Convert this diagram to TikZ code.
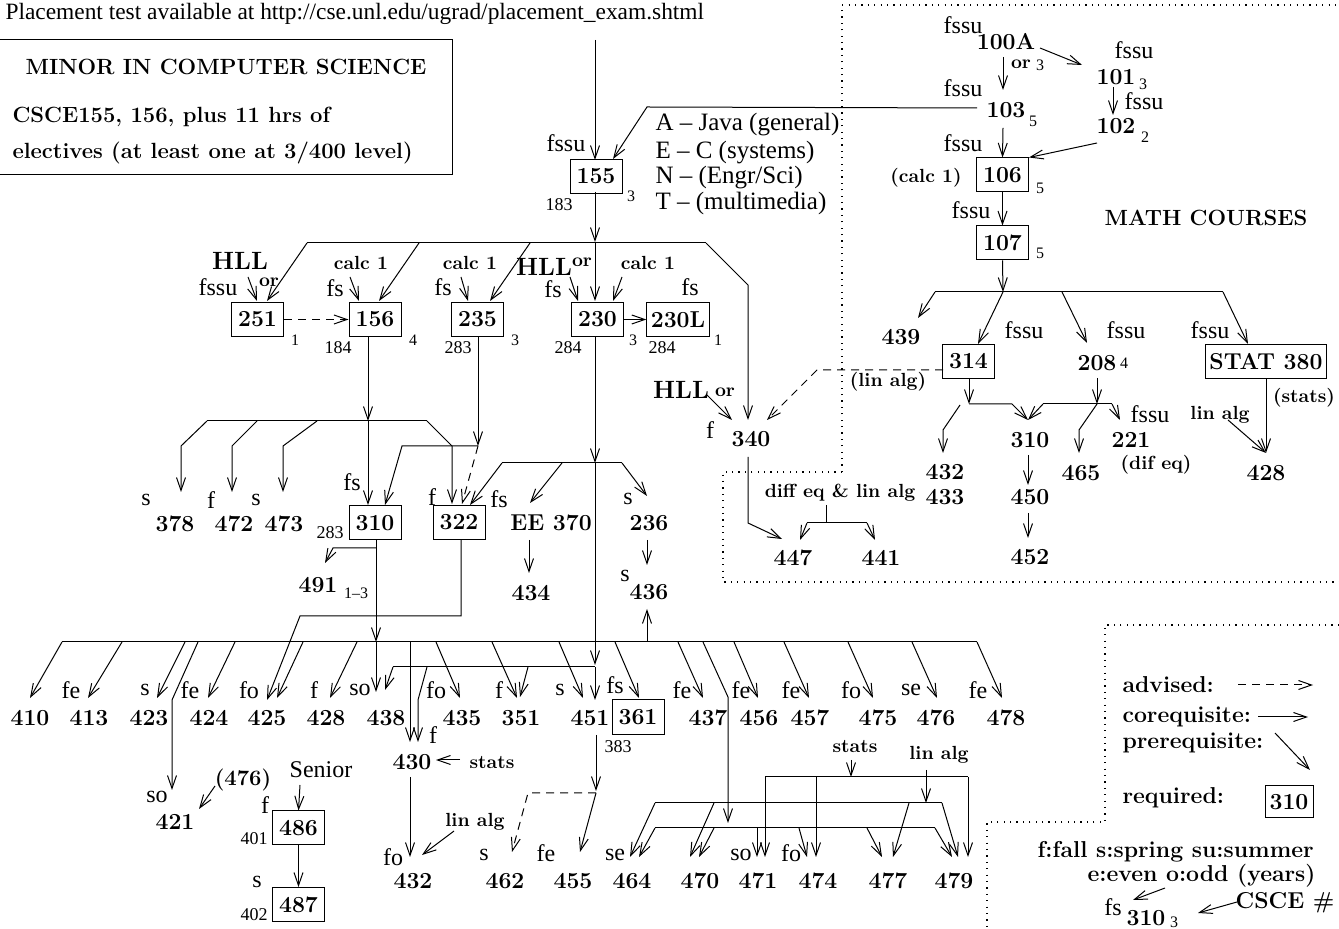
\documentclass[tikz,border=0pt]{standalone}
\usepackage{fontspec}
\newfontfamily\tms{Liberation Serif}
\usetikzlibrary{arrows.meta}
\tikzset{
  pre/.style={-{Straight Barb[length=6.5pt,width=4.5pt]}, line width=0.5pt},
  adv/.style={pre, dash pattern=on 4pt off 3pt},
  course/.style={font=\fontsize{11.5}{12}\selectfont\bfseries, inner sep=0pt},
  req/.style={course, draw, line width=0.5pt, minimum width=26pt, minimum height=17pt, inner xsep=2pt},
  sem/.style={font=\tms\fontsize{12}{13}\selectfont, inner sep=0pt},
  lang/.style={font=\tms\fontsize{12.5}{13}\selectfont, inner sep=0pt, anchor=west},
  num/.style={font=\tms\fontsize{9}{10}\selectfont, inner sep=0pt},
  hrs/.style={font=\tms\fontsize{8}{9}\selectfont, inner sep=0pt},
  cond/.style={font=\fontsize{9.5}{11}\selectfont\bfseries, inner sep=0pt},
  hll/.style={font=\fontsize{12.5}{13}\selectfont\bfseries, inner sep=0pt},
  title/.style={font=\fontsize{11}{13}\selectfont\bfseries, inner sep=0pt},
  leg/.style={font=\fontsize{11.5}{13}\selectfont\bfseries, inner sep=0pt, anchor=west},
  region/.style={line width=0.6pt, dash pattern=on 0.6pt off 2.6pt},
}
\begin{document}
\begin{tikzpicture}[x=0.5pt, y=-0.5pt, line width=0.5pt]
  \useasboundingbox (0,0) rectangle (1339,929);
  \node[sem, font=\tms\fontsize{11.7}{13}\selectfont, anchor=west] (url) at (5,14) {Placement test available at http://cse.unl.edu/ugrad/placement\_exam.shtml};
  \draw (-5,40) rectangle (452,175);
  \node[title] (minor) at (226,67) {MINOR IN COMPUTER SCIENCE};
  \node[title, anchor=west] (minora) at (12,117) {CSCE155, 156, plus 11 hrs of};
  \node[title, anchor=west] (minorb) at (12,153) {electives (at least one at 3/400 level)};

  \node[req] (c155) at (596,176.5) {155};
  \node[sem] (s155) at (566,143) {fssu};
  \node[num] (n155) at (559,205) {183};
  \node[hrs] (h155) at (631,196) {3};
  \node[lang] (langA) at (655,125) {A – Java (general)};
  \node[lang] (langE) at (655,153) {E – C (systems)};
  \node[lang] (langN) at (655,178) {N – (Engr/Sci)};
  \node[lang] (langT) at (655,203) {T – (multimedia)};
  \draw[pre] (595,40) -- (595,160);
  \draw[pre] (977,108) -- (647,107) -- (613,159);
  \draw[pre] (595,192) -- (595,242);

  \draw[region] (842,472) -- (842,5) -- (1339,5);
  \draw[region] (842,472) -- (723,472) -- (723,582) -- (1339,582);
  \node[sem] (s100A) at (963,25) {fssu};
  \node[course] (c100A) at (1006,42) {100A};
  \node[cond] (or100A) at (1021,64) {or};
  \node[hrs] (h100A) at (1040,65) {3};
  \node[sem] (s101) at (1134,50) {fssu};
  \node[course] (c101) at (1116,77) {101};
  \node[hrs] (h101) at (1143,84) {3};
  \node[sem] (s102) at (1144,101) {fssu};
  \node[course] (c102) at (1116,126) {102};
  \node[hrs] (h102) at (1145,137) {2};
  \node[sem] (s103) at (963,88) {fssu};
  \node[course] (c103) at (1006,110) {103};
  \node[hrs] (h103) at (1033,121) {5};
  \node[sem] (s106) at (963,143) {fssu};
  \node[req] (c106) at (1002.5,175) {106};
  \node[cond] (calc106) at (926,178) {(calc 1)};
  \node[hrs] (h106) at (1040,188) {5};
  \node[sem] (s107) at (971,210) {fssu};
  \node[req] (c107) at (1002.5,243) {107};
  \node[hrs] (h107) at (1040,253) {5};
  \node[title] (math) at (1206,218) {MATH COURSES};
  \draw[pre] (1003,57) -- (1003,90);
  \draw[pre] (1040,48) -- (1082,65);
  \draw[pre] (1113,87) -- (1113,115);
  \draw[pre] (1003,128) -- (c106.north);
  \draw[pre] (1097,143) -- (c106.north east);
  \draw[pre] (c106.south) -- (c107.north);
  \draw[pre] (c107.south) -- (1003,292);
  \draw (935,292) -- (1223,292);
  \draw[pre] (935,292) -- (918,318);
  \draw[pre] (1003,292) -- (978,344);
  \draw[pre] (1062,292) -- (1087,343);
  \draw[pre] (1223,292) -- (1248,344);
  \node[course] (c439) at (901,337) {439};
  \node[sem] (s314) at (1024,330) {fssu};
  \node[req] (c314) at (968.5,361.5) {314};
  \node[sem] (s208) at (1126,330) {fssu};
  \node[course] (c208) at (1097,363) {208};
  \node[hrs] (h208) at (1124,363) {4};
  \node[sem] (s380) at (1210,330) {fssu};
  \node[req] (c380) at (1266,361.5) {STAT 380};
  \node[cond] (stats380) at (1304,398) {(stats)};
  \node[cond] (lin428) at (1220,415) {lin alg};
  \node[course] (c428m) at (1266,473) {428};
  \node[cond] (lin314) at (888,382) {(lin alg)};
  \node[sem] (s221) at (1150,414) {fssu};
  \node[course] (c221) at (1131,440) {221};
  \node[cond] (difeq) at (1156,465) {(dif eq)};
  \node[course] (c310m) at (1030,440) {310};
  \node[course] (c465) at (1081,473) {465};
  \node[course] (c432m) at (945,472) {432};
  \node[course] (c433) at (945,497) {433};
  \node[course] (c450) at (1030,497) {450};
  \node[course] (c452) at (1030,557) {452};
  \draw[pre] (c380.south) -- (1266,453);
  \draw[pre] (1228,420) -- (1266,453);
  \draw[pre] (969,378) -- (969,404);
  \draw[pre] (969,404) -- (1012,404) -- (1028,420);
  \draw[pre] (960,405) -- (943,430) -- (943,453);
  \draw[pre] (1097,378) -- (1097,404);
  \draw (1043,404) -- (1112,404);
  \draw[pre] (1043,404) -- (1028,420);
  \draw[pre] (1112,404) -- (1120,420);
  \draw[pre] (1097,404) -- (1079,430) -- (1079,453);
  \draw[pre] (1028,455) -- (1028,485);
  \draw[pre] (1028,513) -- (1028,538);
  \draw[adv] (943,370) -- (817,370) -- (767,420);

  \draw (307,243) -- (706,243);
  \draw[pre] (307,243) -- (267,301);
  \draw[pre] (419,243) -- (379,301);
  \draw[pre] (530,243) -- (490,301);
  \draw[pre] (595,243) -- (595,301);
  \draw[pre] (706,243) -- (748,285) -- (748,420);
  \node[req] (c251) at (257.5,319.5) {251};
  \node[hll] (hll251) at (240,261) {HLL};
  \node[sem] (s251) at (218,287) {fssu};
  \node[cond] (or251) at (269,282) {or};
  \node[hrs] (h251) at (295,340) {1};
  \node[req] (c156) at (375,319.5) {156};
  \node[cond] (calc156) at (361,263) {calc 1};
  \node[sem] (s156) at (335,288) {fs};
  \node[num] (n156) at (338,348) {184};
  \node[hrs] (h156) at (413,340) {4};
  \node[req] (c235) at (477.5,319.5) {235};
  \node[cond] (calc235) at (470,263) {calc 1};
  \node[sem] (s235) at (443,287) {fs};
  \node[num] (n235) at (458,348) {283};
  \node[hrs] (h235) at (515,340) {3};
  \node[req] (c230) at (597.5,319.5) {230};
  \node[hll] (hll230) at (544,267) {HLL};
  \node[cond] (or230) at (582,262) {or};
  \node[sem] (s230) at (553,289) {fs};
  \node[cond] (calc230) at (648,263) {calc 1};
  \node[num] (n230) at (568,348) {284};
  \node[hrs] (h230) at (633,340) {3};
  \node[req, minimum width=31pt] (c230L) at (678,319.5) {230L};
  \node[sem] (s230L) at (690,287) {fs};
  \node[num] (n230L) at (662,348) {284};
  \node[hrs] (h230L) at (718,340) {1};
  \draw[pre] (248,277) -- (257,301);
  \draw[pre] (350,277) -- (359,301);
  \draw[pre] (461,277) -- (468,301);
  \draw[pre] (570,277) -- (578,301);
  \draw[pre] (622,277) -- (613,301);
  \draw[adv] (c251.east) -- (c156.west);
  \draw[pre] (c230.east) -- (c230L.west);

  \node[hll] (hll340) at (681,390) {HLL};
  \node[cond] (or340) at (725,392) {or};
  \node[sem] (s340) at (710,430) {f};
  \node[course] (c340) at (751,439) {340};
  \node[cond] (deq) at (840,493) {diff eq \& lin alg};
  \node[course] (c447) at (793,558) {447};
  \node[course] (c441) at (881,558) {441};
  \draw[pre] (707,395) -- (732,420);
  \draw[pre] (748,457) -- (748,523) -- (782,539);
  \draw (826,505) -- (826,523);
  \draw (807,523) -- (867,523);
  \draw[pre] (807,523) -- (800,540);
  \draw[pre] (867,523) -- (875,540);

  \draw[pre] (368,337) -- (368,421);
  \draw (207,421) -- (427,421);
  \draw[pre] (207,421) -- (181,446) -- (181,492);
  \draw[pre] (257,421) -- (232,446) -- (232,492);
  \draw[pre] (317,421) -- (283,446) -- (283,492);
  \draw[pre] (427,421) -- (452,446) -- (452,504);
  \draw[pre] (368,421) -- (368,505);
  \draw[pre] (478,337) -- (478,446);
  \draw[pre] (478,446) -- (402,446) -- (385,505);
  \draw[adv] (478,446) -- (462,504);
  \node[sem] (s378) at (146,500) {s};
  \node[course] (c378) at (175,524) {378};
  \node[sem] (s472) at (211,500) {f};
  \node[course] (c472) at (234,524) {472};
  \node[sem] (s473) at (256,500) {s};
  \node[course] (c473) at (284,524) {473};
  \node[sem] (s310) at (352,482) {fs};
  \node[req] (c310) at (375,523) {310};
  \node[num] (n310) at (330,533) {283};
  \node[sem] (s322) at (432,497) {f};
  \node[req] (c322) at (459,522.5) {322};
  \draw[pre] (595,337) -- (595,463);
  \draw (502,463) -- (622,463);
  \draw[pre] (502,463) -- (470,505);
  \draw[pre] (562,463) -- (530,503);
  \draw[pre] (622,463) -- (647,496);
  \node[sem] (s370) at (499,499) {fs};
  \node[course] (c370) at (551,523) {EE 370};
  \node[course] (c434) at (531,593) {434};
  \node[sem] (s236) at (628,499) {s};
  \node[course] (c236) at (649,523) {236};
  \node[sem] (s436) at (625,576) {s};
  \node[course] (c436) at (649,592) {436};
  \draw[pre] (529,540) -- (529,573);
  \draw[pre] (647,540) -- (647,565);
  \draw[pre] (376,548) -- (333,548) -- (325,563);
  \node[course] (c491) at (318,585) {491};
  \node[hrs] (h491) at (356,593) {1–3};

  \draw[pre] (376,540) -- (376,642);
  \draw (62,642) -- (977,642);
  \draw[pre] (461,540) -- (461,616) -- (300,616) -- (267,700);
  \draw[pre] (595,463) -- (595,665);
  \draw (595,667) -- (393,667);
  \draw[pre] (393,667) -- (385,690);
  \draw[pre] (427,667) -- (418,700) -- (418,742);
  \draw[pre] (528,667) -- (520,697);
  \draw[pre] (595,667) -- (595,700);
  \foreach \xa/\xb in {62/30, 122/88, 185/157, 235/208, 303/277, 357/330, 436/460, 492/517, 559/583, 615/639, 678/703, 734/758, 784/809, 848/873, 912/937, 977/1002}
    \draw[pre] (\xa,642) -- (\xb,698);
  \draw[pre] (198,642) -- (172,700) -- (172,790);
  \draw[pre] (376,642) -- (376,692);
  \draw[pre] (410,642) -- (410,742);
  \draw[pre] (647,642) -- (647,609);
  \draw[pre] (703,642) -- (728,697) -- (728,823);
  \node[course] (c410) at (30,718) {410};
  \foreach \nm/\sx/\sl/\cx in {413/71/fe/89, 423/145/s/149, 424/190/fe/209, 425/249/fo/267, 428/314/f/326, 438/360/so/386, 435/436/fo/462, 351/499/f/521, 451/560/s/590, 437/682/fe/708, 456/741/fe/759, 457/791/fe/810, 475/851/fo/878, 476/911/se/936, 478/978/fe/1006}{
    \node[sem] (s\nm) at (\sx,690) {\sl};
    \node[course] (c\nm) at (\cx,718) {\nm};
  }
  \node[sem] (s361) at (615,685) {fs};
  \node[req, minimum height=17.5pt] (c361) at (638,717) {361};
  \node[num] (n361) at (618,747) {383};

  \node[sem] (s421) at (157,797) {so};
  \node[course] (c421) at (175,822) {421};
  \node[cond, font=\fontsize{11}{12}\selectfont\bfseries] (p476) at (243,780) {(476)};
  \draw[pre] (215,786) -- (199,809);
  \node[sem] (senior) at (321,770) {Senior};
  \node[sem] (s486) at (265,805) {f};
  \node[req] (c486) at (298.5,828) {486};
  \node[num] (n486) at (254,839) {401};
  \node[sem] (s487) at (257,882) {s};
  \node[req] (c487) at (298.5,904.5) {487};
  \node[num] (n487) at (254,915) {402};
  \draw[pre] (300,785) -- (c486.north);
  \draw[pre] (c486.south) -- (c487.north);

  \node[sem] (s430) at (433,735) {f};
  \node[course] (c430) at (412,762) {430};
  \node[cond] (stats430) at (492,763) {stats};
  \draw[pre] (460,760) -- (436,760);
  \draw[pre] (410,777) -- (410,857);
  \node[sem] (s432) at (393,857) {fo};
  \node[course] (c432) at (413,881) {432};
  \node[cond] (lin432) at (475,822) {lin alg};
  \draw[pre] (454,831) -- (422,855);
  \draw[pre] (596,735) -- (596,791);
  \draw[adv] (596,793) -- (528,793) -- (512,852);
  \draw[pre] (596,793) -- (580,852);
  \node[sem] (s462) at (484,855) {s};
  \node[course] (c462) at (505,881) {462};
  \node[sem] (s455) at (546,853) {fe};
  \node[course] (c455) at (573,881) {455};
  \node[sem] (s464) at (615,855) {se};
  \node[course] (c464) at (632,881) {464};
  \node[course] (c470) at (700,881) {470};
  \node[sem] (s471) at (741,855) {so};
  \node[course] (c471) at (758,881) {471};
  \node[sem] (s474) at (791,853) {fo};
  \node[course] (c474) at (818,881) {474};
  \node[course] (c477) at (888,881) {477};
  \node[course] (c479) at (954,881) {479};
  \node[cond] (stats47) at (855,747) {stats};
  \node[cond] (lin47) at (939,755) {lin alg};
  \draw[pre] (851,760) -- (851,777);
  \draw (765,777) -- (968,777);
  \draw[pre] (765,777) -- (765,857);
  \draw[pre] (816,777) -- (816,857);
  \draw[pre] (968,777) -- (968,857);
  \draw[pre] (926,770) -- (926,803);
  \draw (655,803) -- (942,803);
  \draw[pre] (655,803) -- (630,857);
  \draw[pre] (714,803) -- (690,857);
  \draw[pre] (909,803) -- (893,857);
  \draw[pre] (942,803) -- (958,857);
  \draw (655,828) -- (935,828);
  \foreach \xa/\xb in {655/639, 714/699, 757/757, 799/807, 867/882, 935/952}
    \draw[pre] (\xa,828) -- (\xb,857);

  \draw[region] (1339,625) -- (1105,625) -- (1105,822) -- (987,822) -- (987,929);
  \node[leg] (advised) at (1122,685) {advised:};
  \draw[adv] (1238,685) -- (1313,685);
  \node[leg] (coreq) at (1122,717) {corequisite:};
  \draw[pre] (1258,717) -- (1308,717);
  \node[leg] (prereq) at (1122,743) {prerequisite:};
  \draw[pre] (1275,733) -- (1310,770);
  \node[leg] (required) at (1122,798) {required:};
  \node[req, minimum width=24pt, minimum height=16pt] (legbox) at (1289,802) {310};
  \node[leg] (seasons) at (1037,852) {f:fall s:spring su:summer};
  \node[leg, anchor=east] (years) at (1316,876) {e:even o:odd (years)};
  \node[sem] (legfs) at (1113,907) {fs};
  \node[course] (leg310) at (1146,918) {310};
  \node[hrs] (legh) at (1174,922) {3};
  \node[leg, anchor=east] (csce) at (1335,903) {CSCE \#};
  \draw[pre] (1165,888) -- (1133,900);
  \draw[pre] (1237,902) -- (1198,913);
\end{tikzpicture}
\end{document}
